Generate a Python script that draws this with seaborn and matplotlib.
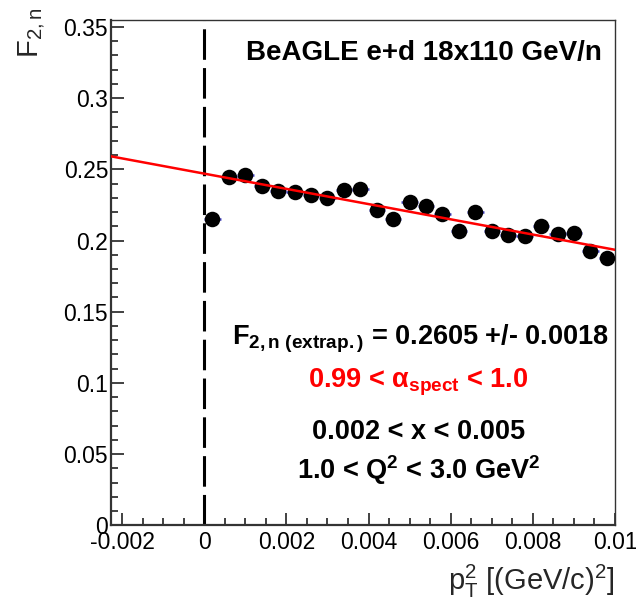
import numpy as np
import pandas as pd
import seaborn as sns
import matplotlib.pyplot as plt

# binned F2,n vs pT^2 (bin centres, values, errors)
pt2 = [0.0002, 0.0006, 0.0010, 0.0014, 0.0018, 0.0022, 0.0026, 0.0030, 0.0034,
       0.0038, 0.0042, 0.0046, 0.0050, 0.0054, 0.0058, 0.0062, 0.0066, 0.0070,
       0.0074, 0.0078, 0.0082, 0.0086, 0.0090, 0.0094, 0.0098]
f2n = [0.2150, 0.2445, 0.2460, 0.2380, 0.2350, 0.2338, 0.2322, 0.2300, 0.2358,
       0.2362, 0.2215, 0.2152, 0.2270, 0.2240, 0.2185, 0.2070, 0.2200, 0.2068,
       0.2040, 0.2032, 0.2105, 0.2047, 0.2052, 0.1925, 0.1880]
f2n_err = [0.0045] * len(pt2)
pt2_halfwidth = 0.0002

# linear fit shown in red
fit_intercept = 0.2470
fit_slope = -5.35

x_ticks = [-0.002, 0.0, 0.002, 0.004, 0.006, 0.008, 0.010]
x_tick_labels = ["-0.002", "0", "0.002", "0.004", "0.006", "0.008", "0.01"]
y_ticks = [0.0, 0.05, 0.10, 0.15, 0.20, 0.25, 0.30, 0.35]
y_tick_labels = ["0", "0.05", "0.1", "0.15", "0.2", "0.25", "0.3", "0.35"]

x_min, x_max = -0.00227, 0.0100
y_min, y_max = 0.0, 0.355

sns.set_theme(style="ticks")
plt.rcParams["font.family"] = ["Liberation Sans", "DejaVu Sans"]
plt.rcParams["text.color"] = "black"
plt.rcParams["mathtext.fontset"] = "custom"
plt.rcParams["mathtext.rm"] = "Liberation Sans"
plt.rcParams["mathtext.it"] = "Liberation Sans:italic"
plt.rcParams["mathtext.bf"] = "Liberation Sans:bold"

df = pd.DataFrame({"pt2": pt2, "f2n": f2n, "err": f2n_err})

fig = plt.figure(figsize=(6.36, 6.03), dpi=100)
ax = fig.add_axes([0.1745, 0.129, 0.7925, 0.838])

ax.errorbar(df["pt2"], df["f2n"], yerr=df["err"], xerr=pt2_halfwidth,
            fmt="none", ecolor="#4a4ad0", elinewidth=1.8, capsize=0, zorder=2)
sns.scatterplot(data=df, x="pt2", y="f2n", ax=ax, color="black", s=125,
                edgecolor="black", linewidth=0, zorder=3, legend=False)

fit_x = np.array([x_min, x_max])
sns.lineplot(x=fit_x, y=fit_intercept + fit_slope * fit_x, ax=ax,
             color="#ff0000", linewidth=1.8, zorder=4)

ax.axvline(0.0, color="black", linewidth=2.2, dashes=(10, 2.7), zorder=1)

ax.set_xlim(x_min, x_max)
ax.set_ylim(y_min, y_max)
ax.set_xticks(x_ticks, x_tick_labels)
ax.set_yticks(y_ticks, y_tick_labels)
ax.set_xticks(np.arange(-0.002, 0.01001, 0.0005), minor=True)
ax.set_yticks(np.arange(0.0, 0.3501, 0.01), minor=True)
ax.tick_params(axis="both", which="both", direction="in", colors="#333333",
               labelcolor="black", labelsize=16.5)
ax.tick_params(which="major", length=9, width=1.3)
ax.tick_params(which="minor", length=5, width=1.3)
ax.tick_params(axis="x", pad=4)
ax.tick_params(axis="y", pad=2)

for side, sp in ax.spines.items():
    sp.set_visible(True)
    sp.set_color("#333333")
    sp.set_linewidth(1.6 if side in ("left", "bottom") else 1.0)

ax.set_xlabel(r"p$_{\mathrm{T}}^{2}$ [(GeV/c)$^{2}$]", fontsize=21, loc="right")
ax.set_ylabel(r"F$_{\mathrm{2,n}}$", fontsize=21, loc="top")
ax.xaxis.set_label_coords(1.0, -0.075)
ax.yaxis.set_label_coords(-0.125, 1.025)

bold = dict(transform=ax.transAxes, ha="center", va="center",
            fontweight="bold", fontsize=19.5)
ax.text(0.62, 0.935, "BeAGLE e+d 18x110 GeV/n", **{**bold, "fontsize": 20})
ax.text(0.615, 0.369, r"F$_{\mathbf{2,n\ (extrap.)}}$ = 0.2605 +/- 0.0018", **bold)
ax.text(0.61, 0.283, r"0.99 < $\mathbf{\alpha_{spect}}$ < 1.0", color="#ff0000", **bold)
ax.text(0.61, 0.185, "0.002 < x < 0.005", **bold)
ax.text(0.61, 0.11, r"1.0 < Q$^{\mathbf{2}}$ < 3.0 GeV$^{\mathbf{2}}$", **bold)

fig.savefig("out.png", dpi=100, facecolor="white")
